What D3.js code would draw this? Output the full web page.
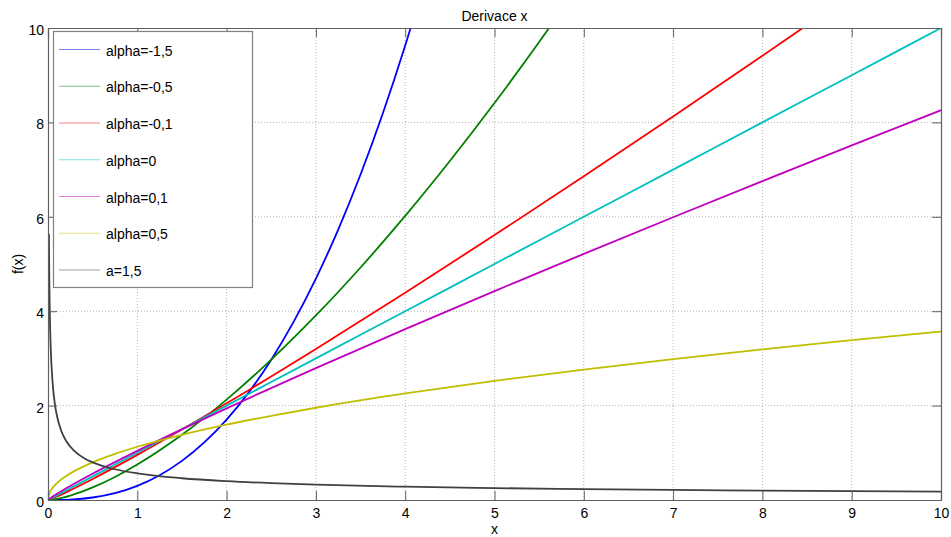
<!DOCTYPE html>
<html><head><meta charset="utf-8">
<script src="https://cdn.jsdelivr.net/npm/d3@7/dist/d3.min.js"></script>
<style>
body{margin:0;background:#fff;}
svg{display:block;font-family:"Liberation Sans",Arial,sans-serif;}
</style></head>
<body>
<svg id="chart" width="951" height="537"></svg>
<script>
// Chart data
const title = "Derivace x";
const xLabel = "x";
const yLabel = "f(x)";
const xTicks = [0,1,2,3,4,5,6,7,8,9,10];
const yTicks = [0,2,4,6,8,10];
const seriesNames = ["alpha=-1,5","alpha=-0,5","alpha=-0,1","alpha=0","alpha=0,1","alpha=0,5","a=1,5"];
const seriesColors = ["#0000ff","#008000","#ff0000","#00bfbf","#bf00bf","#bfbf00","#404040"];

const alphaM15 = [[0,0],[0.25,0.0094],[0.5,0.0532],[0.75,0.1466],[1,0.3009],[1.25,0.5256],[1.5,0.8292],[1.75,1.2190],[2,1.7021],[2.25,2.2849],[2.5,2.9735],[2.75,3.7736],[3,4.6905],[3.25,5.7297],[3.5,6.8958],[3.75,8.1940],[4,9.6287],[4.25,11.205]];
const alphaM05 = [[0,0],[0.1,0.0238],[0.25,0.0940],[0.5,0.2660],[0.75,0.4886],[1,0.7523],[1.5,1.3820],[2,2.1277],[2.5,2.9736],[3,3.9090],[3.5,4.9259],[4,6.0183],[4.5,7.1812],[5,8.4106],[5.5,9.7037],[6,11.056]];
const alphaM01 = [[0,0],[0.1,0.0759],[0.25,0.2080],[0.5,0.4458],[1,0.9556],[2,2.0483],[3,3.1997],[4,4.3907],[5,5.6123],[6,6.8585],[7,8.1259],[8,9.4117],[9,10.713]];
const alpha0 = [[0,0],[1,1],[2,2],[3,3],[4,4],[5,5],[6,6],[7,7],[8,8],[9,9],[10,10]];
const alphaP01 = [[0,0],[0.01,0.0165],[0.05,0.0702],[0.1,0.1309],[0.25,0.2986],[0.5,0.5572],[1,1.0397],[2,1.9402],[3,2.7947],[4,3.6206],[5,4.4260],[6,5.2153],[7,5.9912],[8,6.7566],[9,7.5120],[10,8.2590]];
const alphaP05 = [[0,0],[0.001,0.0357],[0.003,0.0618],[0.01,0.1128],[0.05,0.2523],[0.1,0.3568],[0.2,0.5046],[0.3,0.6180],[0.5,0.7979],[0.75,0.9772],[1,1.1284],[1.5,1.3820],[2,1.5958],[2.5,1.7841],[3,1.9544],[4,2.2568],[5,2.5231],[6,2.7640],[7,2.9854],[8,3.1915],[9,3.3851],[10,3.5682]];
const aP15 = [[0.01,5.6419],[0.015,4.6067],[0.02,3.9894],[0.03,3.2573],[0.05,2.5231],[0.075,2.0601],[0.1,1.7841],[0.15,1.4567],[0.2,1.2616],[0.3,1.0301],[0.4,0.8921],[0.5,0.7979],[0.75,0.6515],[1,0.5642],[1.5,0.4607],[2,0.3989],[2.5,0.3568],[3,0.3257],[4,0.2821],[5,0.2523],[6,0.2303],[7,0.2132],[8,0.1995],[9,0.1881],[10,0.1784]];
const seriesData = [alphaM15, alphaM05, alphaM01, alpha0, alphaP01, alphaP05, aP15];

const svg = d3.select("#chart");
const L = 48, R = 941, T = 28, B = 500;
const x = d3.scaleLinear().domain([0,10]).range([L,R]);
const y = d3.scaleLinear().domain([0,10]).range([B,T]);

// grid
const grid = svg.append("g");
grid.selectAll("line.gx").data(xTicks.slice(1,-1)).join("line")
  .attr("x1",d=>x(d)).attr("x2",d=>x(d)).attr("y1",T).attr("y2",B)
  .attr("stroke","#a0a0a0").attr("stroke-width",0.8).attr("stroke-dasharray","1,2");
grid.selectAll("line.gy").data(yTicks.slice(1,-1)).join("line")
  .attr("y1",d=>y(d)).attr("y2",d=>y(d)).attr("x1",L).attr("x2",R)
  .attr("stroke","#a0a0a0").attr("stroke-width",0.8).attr("stroke-dasharray","1,2");

// clip
svg.append("clipPath").attr("id","clip").append("rect")
  .attr("x",L).attr("y",T).attr("width",R-L).attr("height",B-T);

const line = d3.line().x(d=>x(d[0])).y(d=>y(d[1])).curve(d3.curveMonotoneX);
svg.append("g").attr("clip-path","url(#clip)")
  .selectAll("path").data(seriesData).join("path")
  .attr("d",line).attr("fill","none")
  .attr("stroke",(d,i)=>seriesColors[i]).attr("stroke-width",1.8);

// axes
const axColor = "#606060";
const ticksIn = 9;
const axB = svg.append("g").attr("transform",`translate(0,${B})`)
  .call(d3.axisBottom(x).tickValues(xTicks).tickSize(-ticksIn).tickPadding(8).tickFormat(d3.format("d")));
const axT = svg.append("g").attr("transform",`translate(0,${T})`)
  .call(d3.axisTop(x).tickValues(xTicks).tickSize(-ticksIn).tickFormat(""));
const axL = svg.append("g").attr("transform",`translate(${L},0)`)
  .call(d3.axisLeft(y).tickValues(yTicks).tickSize(-ticksIn).tickPadding(4).tickFormat(d3.format("d")));
const axR = svg.append("g").attr("transform",`translate(${R},0)`)
  .call(d3.axisRight(y).tickValues(yTicks).tickSize(-ticksIn).tickFormat(""));
[axB,axT,axL,axR].forEach(a=>{
  a.select(".domain").attr("stroke",axColor).attr("stroke-width",1.2);
  a.selectAll(".tick line").attr("stroke",axColor);
  a.selectAll("text").attr("fill","#000").attr("font-size",14).attr("font-family","Liberation Sans, Arial, sans-serif");
});
axL.selectAll("text").attr("y",2);

// legend
const lg = svg.append("g");
lg.append("rect").attr("x",53.5).attr("y",31.5).attr("width",199).attr("height",256)
  .attr("fill","#fff").attr("stroke","#808080").attr("stroke-width",1.2);
const items = lg.selectAll("g.item").data(seriesNames).join("g")
  .attr("transform",(d,i)=>`translate(0,${49.5+i*36.75})`);
items.append("line").attr("x1",59).attr("x2",100).attr("y1",0).attr("y2",0)
  .attr("stroke",(d,i)=>seriesColors[i]).attr("stroke-opacity",0.5).attr("stroke-width",1);
items.append("text").attr("x",106).attr("y",6).attr("font-size",14).text(d=>d);

// titles
svg.append("text").attr("x",(L+R)/2).attr("y",21).attr("text-anchor","middle").attr("font-size",14).text(title);
svg.append("text").attr("x",(L+R)/2).attr("y",534).attr("text-anchor","middle").attr("font-size",14).text(xLabel);
svg.append("text").attr("transform",`translate(23,${(T+B)/2}) rotate(-90)`).attr("text-anchor","middle").attr("font-size",14).text(yLabel);
</script>
</body></html>
